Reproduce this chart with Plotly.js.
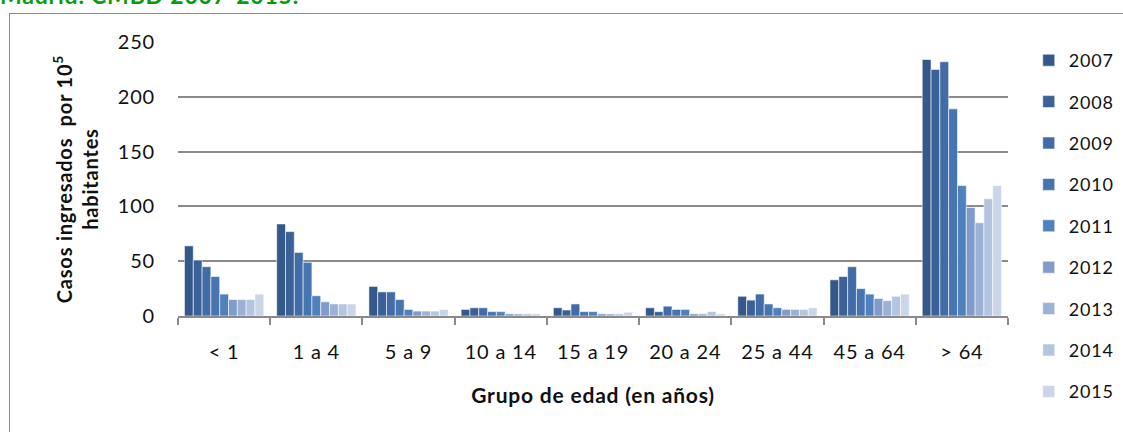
<!DOCTYPE html>
<html>
<head>
<meta charset="utf-8">
<script src="https://cdn.plot.ly/plotly-3.0.1.min.js"></script>
<style>
  body { margin: 0; background: #fff; overflow: hidden; }
  #frame { position: absolute; left: 9px; top: 13px; width: 1300px; height: 600px;
           border-left: 1.5px solid #8a8a8a; border-top: 1.5px solid #8a8a8a; }
  #chart { position: absolute; left: 0; top: 0; width: 1123px; height: 432px; }
  #chart text { letter-spacing: 0.8px; }
</style>
</head>
<body>
<div id="frame"></div>
<div id="chart"></div>
<script>
// Hospital admissions per 10^5 inhabitants by age group, CMBD 2007-2015
const ageGroups = ['< 1', '1 a 4', '5 a 9', '10 a 14', '15 a 19', '20 a 24', '25 a 44', '45 a 64', '> 64'];
const years = ['2007', '2008', '2009', '2010', '2011', '2012', '2013', '2014', '2015'];

const v2007 = [64, 84, 27, 6, 7.5, 7.5, 18, 33, 234];
const v2008 = [51, 77, 22, 7.5, 5.5, 4, 14.5, 36, 225];
const v2009 = [45, 58, 22, 7.5, 11, 9, 20, 45, 232];
const v2010 = [36, 49, 15, 4, 4, 6, 11, 25, 189];
const v2011 = [20, 18.5, 6, 4, 4, 6, 7.5, 20, 119];
const v2012 = [15, 13, 4.5, 2, 2, 2, 6, 16, 99];
const v2013 = [15, 11, 4.5, 2, 2, 2, 6, 14, 85];
const v2014 = [15, 11, 4.5, 2, 2, 4, 6, 18, 107];
const v2015 = [20, 11, 6, 2, 3.5, 2, 7.5, 20, 119];

const seriesValues = [v2007, v2008, v2009, v2010, v2011, v2012, v2013, v2014, v2015];
const yearColors = ['#34588a', '#3a6298', '#416ca7', '#4775b2', '#4f81bd', '#7f9ccb', '#9cb1d6', '#b4c5e1', '#cbd5e8'];

const FONT = 'Lato, "Open Sans", sans-serif';

const traces = years.map((yr, i) => ({
    type: 'bar',
    name: yr,
    x: ageGroups,
    y: seriesValues[i],
    legendgroup: yr,
    marker: { color: yearColors[i], line: { color: 'rgba(255,255,255,0.7)', width: 0.8 } },
    hoverinfo: 'x+y+name'
}));

const layout = {
    width: 1123,
    height: 432,
    paper_bgcolor: 'rgba(0,0,0,0)',
    plot_bgcolor: '#fff',
    margin: { l: 178, r: 115, t: 42, b: 116, autoexpand: false },
    // title is cut by the top edge, as in the source image
    title: {
        text: 'Madrid. CMBD 2007-2015.',
        font: { family: FONT, size: 23, color: '#0a9a0a', weight: 'bold' },
        x: 0.0, xref: 'container', xanchor: 'left',
        y: 0.99, yref: 'container', yanchor: 'bottom'
    },
    barmode: 'group',
    bargap: 0.14,
    bargroupgap: 0,
    font: { family: FONT, size: 20, color: '#111' },
    xaxis: {
        type: 'category',
        showline: true,
        linecolor: '#8a8a8a',
        linewidth: 2,
        ticks: 'outside',
        tickson: 'boundaries',
        ticklen: 7,
        tickwidth: 2,
        tickcolor: '#8a8a8a',
        ticklabelstandoff: 17,
        showgrid: false,
        tickfont: { family: FONT, size: 20 },
        title: {
            text: 'Grupo de edad (en años)',
            font: { family: FONT, size: 21, weight: 'bold' },
            standoff: 26
        }
    },
    yaxis: {
        range: [0, 250],
        dtick: 50,
        showline: false,
        showgrid: true,
        gridcolor: '#8a8a8a',
        gridwidth: 1.5,
        zeroline: false,
        ticks: '',
        ticklabelstandoff: 22,
        tickfont: { family: FONT, size: 20 },
        title: {
            text: 'Casos ingresados  por 10<sup>5</sup><br>habitantes',
            font: { family: FONT, size: 20, weight: 'bold' },
            standoff: 16
        }
    },
    legend: {
        x: 1.025, xanchor: 'left',
        y: 1.0, yanchor: 'top',
        traceorder: 'grouped',
        tracegroupgap: 15,
        maxheight: 430,
        font: { family: FONT, size: 18, color: '#111' },
        bgcolor: 'rgba(0,0,0,0)'
    },
    showlegend: true
};

Plotly.newPlot('chart', traces, layout, { displayModeBar: false });
</script>
</body>
</html>
